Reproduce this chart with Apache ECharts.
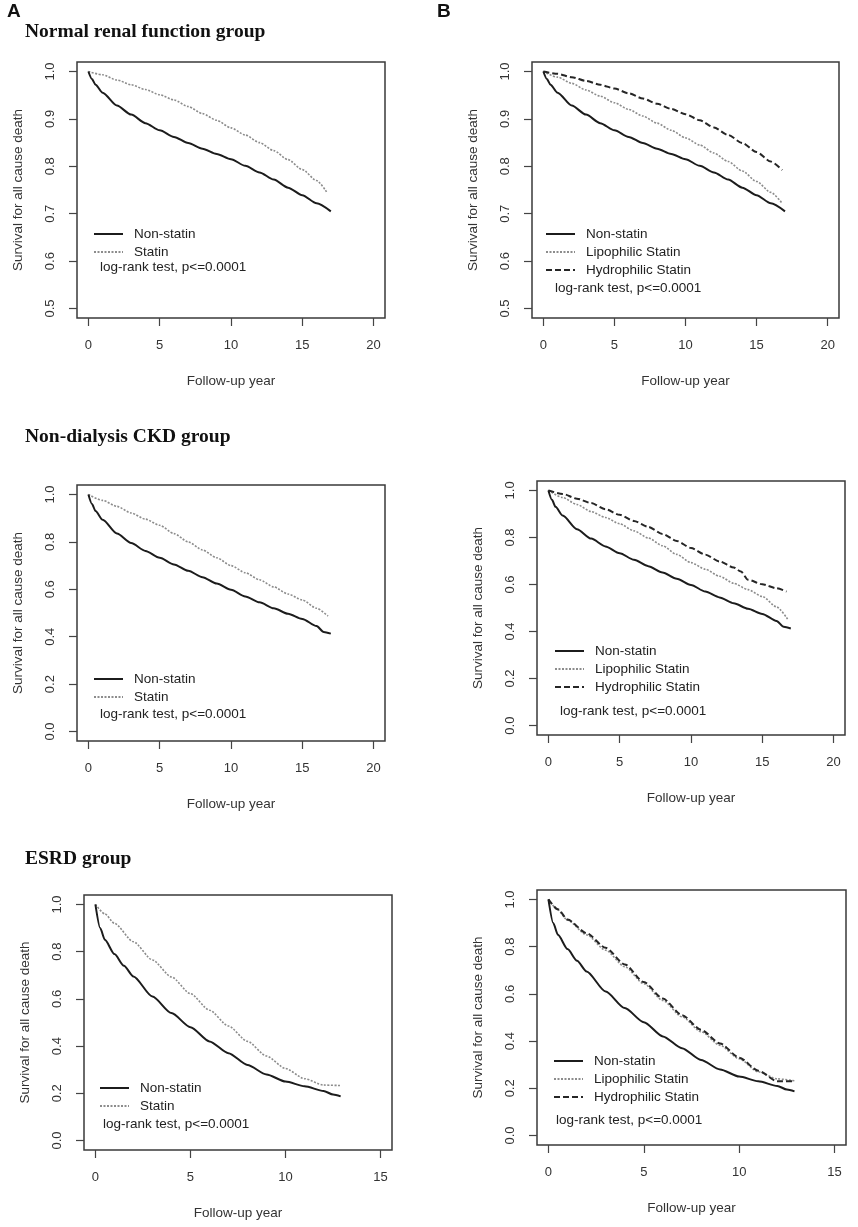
<!DOCTYPE html>
<html>
<head>
<meta charset="utf-8">
<script src="https://cdn.jsdelivr.net/npm/echarts@6/dist/echarts.min.js"></script>
<style>
html,body{margin:0;padding:0;background:#fff;}
#c{width:858px;height:1227px;}
</style>
</head>
<body>
<div id="c"></div>
<script>
// ---------- DATA ----------
// Normal renal function group
const nrfTime = [0,0.25,0.5,1,2,3,4,5,6,7,8,9,10,11,12,13,14,15,16,17];
const nrfNonStatin = [1,0.984,0.972,0.955,0.928,0.909,0.891,0.876,0.862,0.849,0.837,0.826,0.815,0.801,0.787,0.772,0.755,0.739,0.722,0.705];
const nrfStatinTime = [0,1,2,3,4,5,6,7,8,9,10,11,12,13,14,15,16,16.7];
const nrfStatin = [1,0.993,0.982,0.972,0.962,0.951,0.94,0.926,0.911,0.897,0.881,0.866,0.85,0.833,0.814,0.793,0.77,0.746];
const nrfSubTime = [0,1,2,3,4,5,6,7,8,9,10,11,12,13,14,15,16,16.8];
const nrfLipo = [1,0.988,0.975,0.961,0.948,0.934,0.92,0.906,0.891,0.876,0.86,0.845,0.828,0.81,0.79,0.768,0.745,0.722];
const nrfHydro = [1,0.995,0.988,0.98,0.972,0.964,0.954,0.943,0.932,0.921,0.91,0.897,0.882,0.866,0.849,0.83,0.81,0.792];

// Non-dialysis CKD group
const ckdTime = [0,0.25,0.5,1,2,3,4,5,6,7,8,9,10,11,12,13,14,15,16,16.5,17];
const ckdNonStatin = [1,0.96,0.93,0.893,0.835,0.795,0.762,0.733,0.705,0.678,0.651,0.624,0.598,0.57,0.545,0.52,0.497,0.475,0.445,0.42,0.413];
const ckdStatinTime = [0,1,2,3,4,5,6,7,8,9,10,11,12,13,14,15,16,16.8];
const ckdStatin = [1,0.975,0.95,0.922,0.896,0.87,0.835,0.8,0.766,0.733,0.7,0.67,0.64,0.61,0.58,0.555,0.52,0.487];
const ckdLipoTime = [0,1,2,3,4,5,6,7,8,9,10,11,12,13,14,15,16,16.8];
const ckdLipo = [1,0.97,0.94,0.91,0.885,0.858,0.828,0.798,0.765,0.728,0.693,0.665,0.635,0.605,0.578,0.549,0.505,0.45];
const ckdHydroTime = [0,1,2,3,4,5,6,7,8,9,10,11,12,13,13.5,14,15,16,16.7];
const ckdHydro = [1,0.985,0.965,0.946,0.92,0.896,0.87,0.845,0.815,0.785,0.755,0.727,0.698,0.672,0.655,0.62,0.601,0.584,0.57];

// ESRD group
const esrdTime = [0,0.25,0.5,1,1.5,2,3,4,5,6,7,8,9,10,11,12,12.5,12.9];
const esrdNonStatin = [1,0.9,0.85,0.79,0.74,0.695,0.61,0.54,0.48,0.42,0.37,0.32,0.28,0.25,0.23,0.21,0.195,0.187];
const esrdStatinTime = [0,0.5,1,2,3,4,5,6,7,8,9,10,11,12,12.9];
const esrdStatin = [1,0.96,0.92,0.842,0.765,0.693,0.622,0.552,0.485,0.42,0.358,0.305,0.262,0.235,0.233];
const esrdLipo = [1,0.955,0.912,0.85,0.785,0.715,0.643,0.572,0.503,0.44,0.382,0.325,0.27,0.24,0.232];
const esrdHydro = [1,0.958,0.915,0.857,0.795,0.725,0.65,0.58,0.51,0.448,0.39,0.33,0.275,0.23,0.23];

// Tick ranges (first tick, last tick, step)
const xTicks20 = [0,20,5];
const xTicks15 = [0,15,5];
const yTicksHigh = [0.5,1.0,0.1];
const yTicksFull = [0,1.0,0.2];

// Text
const panelLetters = ['A','B'];
const rowTitles = ['Normal renal function group','Non-dialysis CKD group','ESRD group'];
const pText = 'log-rank test, p<=0.0001';
const xTitle = 'Follow-up year';
const yTitle = 'Survival for all cause death';

// ---------- BUILD ----------
const SANS = '"Liberation Sans", Arial, Helvetica, sans-serif';
const SERIF = '"Liberation Serif", "Times New Roman", serif';
const zip = (t, s) => t.map((x, i) => [x, s[i]]);

const styles = {
  'Non-statin': {color:'#1c1c1c', width:2, type:'solid'},
  'Statin': {color:'#8c8c8c', width:1.6, type:[2,1.5]},
  'Lipophilic Statin': {color:'#8c8c8c', width:1.6, type:[2,1.5]},
  'Hydrophilic Statin': {color:'#262626', width:2, type:[6,3]}
};

// box = R plot frame; tick range padded 4% like R
const panels = [
  {box:{left:77,top:62,width:308,height:256}, xt:xTicks20, yt:yTicksHigh,
   curves:[['Non-statin',zip(nrfTime,nrfNonStatin)],['Statin',zip(nrfStatinTime,nrfStatin)]],
   legend:{left:93,top:227}, ptext:{left:100,cy:267}},
  {box:{left:532,top:62,width:307,height:256}, xt:xTicks20, yt:yTicksHigh,
   curves:[['Non-statin',zip(nrfTime,nrfNonStatin)],['Lipophilic Statin',zip(nrfSubTime,nrfLipo)],['Hydrophilic Statin',zip(nrfSubTime,nrfHydro)]],
   legend:{left:545,top:227}, ptext:{left:555,cy:288}},
  {box:{left:77,top:485,width:308,height:256}, xt:xTicks20, yt:yTicksFull,
   curves:[['Non-statin',zip(ckdTime,ckdNonStatin)],['Statin',zip(ckdStatinTime,ckdStatin)]],
   legend:{left:93,top:672}, ptext:{left:100,cy:714}},
  {box:{left:537,top:481,width:308,height:254}, xt:xTicks20, yt:yTicksFull,
   curves:[['Non-statin',zip(ckdTime,ckdNonStatin)],['Lipophilic Statin',zip(ckdLipoTime,ckdLipo)],['Hydrophilic Statin',zip(ckdHydroTime,ckdHydro)]],
   legend:{left:554,top:644}, ptext:{left:560,cy:711}},
  {box:{left:84,top:895,width:308,height:255}, xt:xTicks15, yt:yTicksFull,
   curves:[['Non-statin',zip(esrdTime,esrdNonStatin)],['Statin',zip(esrdStatinTime,esrdStatin)]],
   legend:{left:99,top:1081}, ptext:{left:103,cy:1124}},
  {box:{left:537,top:890,width:309,height:255}, xt:xTicks15, yt:yTicksFull,
   curves:[['Non-statin',zip(esrdTime,esrdNonStatin)],['Lipophilic Statin',zip(esrdStatinTime,esrdLipo)],['Hydrophilic Statin',zip(esrdStatinTime,esrdHydro)]],
   legend:{left:553,top:1054}, ptext:{left:556,cy:1120}}
];

const option = {
  backgroundColor:'#fff',
  animation:false,
  grid:[], xAxis:[], yAxis:[], series:[], legend:[], title:[]
};

const N = panels.length;
const PAD = 0.04;

panels.forEach((p, i) => {
  const b = p.box;
  const f = 1 / (1 + 2 * PAD);
  const inW = b.width * f, inH = b.height * f;
  const offX = (b.width - inW) / 2, offY = (b.height - inH) / 2;
  // data grid (tick range)
  option.grid.push({left:b.left + offX, top:b.top + offY, width:inW, height:inH});
  option.xAxis.push({
    type:'value', gridIndex:i, min:p.xt[0], max:p.xt[1], interval:p.xt[2], offset:offY,
    axisLine:{show:false, onZero:false}, splitLine:{show:false},
    axisTick:{show:true, length:8, lineStyle:{color:'#444', width:1.2}},
    axisLabel:{margin:21, color:'#333', fontSize:13, fontFamily:SANS},
    name:xTitle, nameLocation:'middle', nameGap:56,
    nameTextStyle:{color:'#333', fontSize:13.5, fontFamily:SANS}
  });
  option.yAxis.push({
    type:'value', gridIndex:i, min:p.yt[0], max:p.yt[1], interval:p.yt[2], offset:offX,
    axisLine:{show:false, onZero:false}, splitLine:{show:false},
    axisTick:{show:true, length:8, lineStyle:{color:'#444', width:1.2}},
    axisLabel:{margin:20, rotate:90, color:'#333', fontSize:13, fontFamily:SANS,
      formatter:v => Number(v).toFixed(1)},
    name:yTitle, nameLocation:'middle', nameGap:52,
    nameTextStyle:{color:'#333', fontSize:13.5, fontFamily:SANS}
  });
  p.curves.forEach(([name, data]) => {
    const st = styles[name];
    option.series.push({
      type:'line', name, xAxisIndex:i, yAxisIndex:i, data, clip:false,
      symbol:'none', smooth:0.25, smoothMonotone:'x', silent:true,
      itemStyle:{color:st.color, opacity:0},
      lineStyle:{color:st.color, width:st.width, type:st.type},
      z: name === 'Non-statin' ? 3 : 2
    });
  });
  option.legend.push({
    orient:'vertical', left:p.legend.left, top:p.legend.top, padding:0,
    itemWidth:29, itemHeight:12, itemGap:4, selectedMode:false,
    itemStyle:{opacity:0},
    data: p.curves.map(c => c[0]),
    textStyle:{color:'#222', fontSize:13.5, fontFamily:SANS, lineHeight:12, padding:[0,0,0,6]}
  });
  option.title.push({
    text:pText, left:p.ptext.left, top:p.ptext.cy - 8, padding:0,
    textStyle:{color:'#222', fontSize:13.5, fontWeight:'normal', fontFamily:SANS, lineHeight:16}
  });
});

// frame grids (R box), with hidden axes
panels.forEach((p, i) => {
  option.grid.push(Object.assign({show:true, borderColor:'#3a3a3a', borderWidth:1.5, backgroundColor:'transparent'}, p.box));
  option.xAxis.push({type:'value', gridIndex:N + i, show:false, min:0, max:1});
  option.yAxis.push({type:'value', gridIndex:N + i, show:false, min:0, max:1});
});

// Panel letters and row titles
option.title.push({text:panelLetters[0], left:7, top:2, padding:0,
  textStyle:{fontSize:19, fontWeight:'bold', color:'#111', fontFamily:SANS, lineHeight:20}});
option.title.push({text:panelLetters[1], left:437, top:2, padding:0,
  textStyle:{fontSize:19, fontWeight:'bold', color:'#111', fontFamily:SANS, lineHeight:20}});
[32, 437, 859].forEach((cy, k) => {
  option.title.push({text:rowTitles[k], left:25, top:cy - 11, padding:0,
    textStyle:{fontSize:19.5, fontWeight:'bold', color:'#111', fontFamily:SERIF, lineHeight:22}});
});

const chart = echarts.init(document.getElementById('c'), null, {renderer:'canvas'});
chart.setOption(option);
</script>
</body>
</html>
